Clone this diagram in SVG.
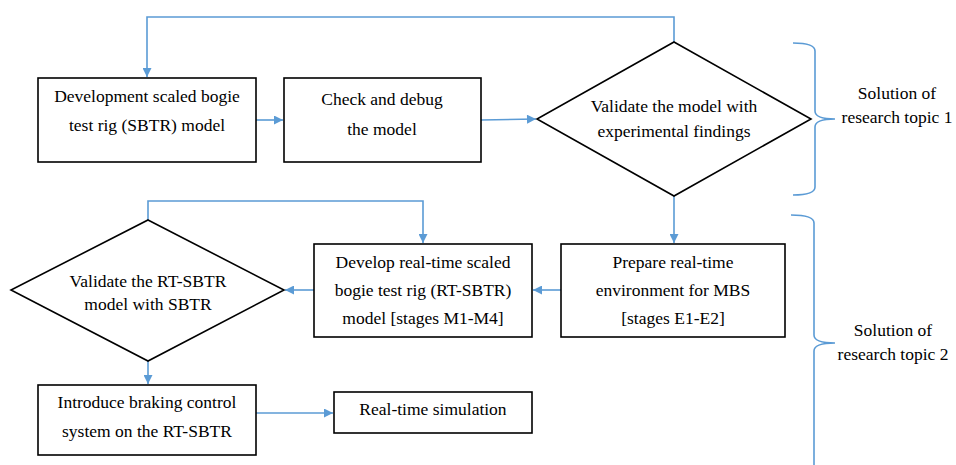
<svg xmlns="http://www.w3.org/2000/svg" width="956" height="465" viewBox="0 0 956 465">
<defs>
<marker id="ah" viewBox="0 0 10 10" refX="10" refY="5" markerWidth="10" markerHeight="9" markerUnits="userSpaceOnUse" orient="auto">
<path d="M0,0 L10,5 L0,10 z" fill="#5B9BD5"/>
</marker>
</defs>
<rect width="956" height="465" fill="#fff"/>
<g id="connectors" fill="none" stroke="#5B9BD5" stroke-width="1.6">
<path d="M674,42 V17 H147 V77" marker-end="url(#ah)"/>
<path d="M256,120 H283" marker-end="url(#ah)"/>
<path d="M481,120 L536,119" marker-end="url(#ah)"/>
<path d="M674,196 V243" marker-end="url(#ah)"/>
<path d="M561,290 H533" marker-end="url(#ah)"/>
<path d="M314,290 H285" marker-end="url(#ah)"/>
<path d="M148,220 V201 H423 V243" marker-end="url(#ah)"/>
<path d="M148,361 V384" marker-end="url(#ah)"/>
<path d="M256,413 H333" marker-end="url(#ah)"/>
</g>
<g id="n1"><rect fill="#fff" stroke="#000" stroke-width="1.6" x="38" y="78" width="218" height="84"/>
<text font-family="Liberation Serif" font-size="17.5" text-anchor="middle" x="147" y="102">Development scaled bogie</text>
<text font-family="Liberation Serif" font-size="17.5" text-anchor="middle" x="147" y="131">test rig (SBTR) model</text></g>
<g id="n2"><rect fill="#fff" stroke="#000" stroke-width="1.6" x="284" y="78" width="197" height="84"/>
<text font-family="Liberation Serif" font-size="17.5" text-anchor="middle" x="382" y="105">Check and debug</text>
<text font-family="Liberation Serif" font-size="17.5" text-anchor="middle" x="382" y="135">the model</text></g>
<g id="n3"><polygon fill="#fff" stroke="#000" stroke-width="1.6" points="674,42 811,119 674,196 537,119"/>
<text font-family="Liberation Serif" font-size="17.5" text-anchor="middle" x="674" y="112">Validate the model with</text>
<text font-family="Liberation Serif" font-size="17.5" text-anchor="middle" x="674" y="137">experimental findings</text></g>
<g id="n4"><rect fill="#fff" stroke="#000" stroke-width="1.6" x="561" y="244" width="224" height="93"/>
<text font-family="Liberation Serif" font-size="17.5" text-anchor="middle" x="673" y="268">Prepare real-time</text>
<text font-family="Liberation Serif" font-size="17.5" text-anchor="middle" x="673" y="296">environment for MBS</text>
<text font-family="Liberation Serif" font-size="17.5" text-anchor="middle" x="673" y="324">[stages E1-E2]</text></g>
<g id="n5"><rect fill="#fff" stroke="#000" stroke-width="1.6" x="314" y="244" width="218" height="93"/>
<text font-family="Liberation Serif" font-size="17.5" text-anchor="middle" x="423" y="268">Develop real-time scaled</text>
<text font-family="Liberation Serif" font-size="17.5" text-anchor="middle" x="423" y="296">bogie test rig (RT-SBTR)</text>
<text font-family="Liberation Serif" font-size="17.5" text-anchor="middle" x="423" y="324">model [stages M1-M4]</text></g>
<g id="n6"><polygon fill="#fff" stroke="#000" stroke-width="1.6" points="148,220 284,290 148,361 11,290"/>
<text font-family="Liberation Serif" font-size="17.5" text-anchor="middle" x="148" y="287">Validate the RT-SBTR</text>
<text font-family="Liberation Serif" font-size="17.5" text-anchor="middle" x="148" y="310">model with SBTR</text></g>
<g id="n7"><rect fill="#fff" stroke="#000" stroke-width="1.6" x="38" y="385" width="218" height="70"/>
<text font-family="Liberation Serif" font-size="17.5" text-anchor="middle" x="147" y="408">Introduce braking control</text>
<text font-family="Liberation Serif" font-size="17.5" text-anchor="middle" x="147" y="437">system on the RT-SBTR</text></g>
<g id="n8"><rect fill="#fff" stroke="#000" stroke-width="1.6" x="334" y="392" width="198" height="41"/>
<text font-family="Liberation Serif" font-size="17.5" text-anchor="middle" x="433" y="415">Real-time simulation</text></g>
<g id="brace1"><path fill="none" stroke="#5B9BD5" stroke-width="1.6" d="M793,43 Q815,43 815,51 V111 Q815,119 835,119 Q815,119 815,127 V187 Q815,195 793,195"/>
<text font-family="Liberation Serif" font-size="17.5" text-anchor="middle" x="897" y="99">Solution of</text>
<text font-family="Liberation Serif" font-size="17.5" text-anchor="middle" x="897" y="123">research topic 1</text></g>
<g id="brace2"><path fill="none" stroke="#5B9BD5" stroke-width="1.6" d="M791,215 Q814,215 814,223 V335 Q814,343 835,343 Q814,343 814,351 V465"/>
<text font-family="Liberation Serif" font-size="17.5" text-anchor="middle" x="893" y="336">Solution of</text>
<text font-family="Liberation Serif" font-size="17.5" text-anchor="middle" x="893" y="360">research topic 2</text></g>
</svg>
